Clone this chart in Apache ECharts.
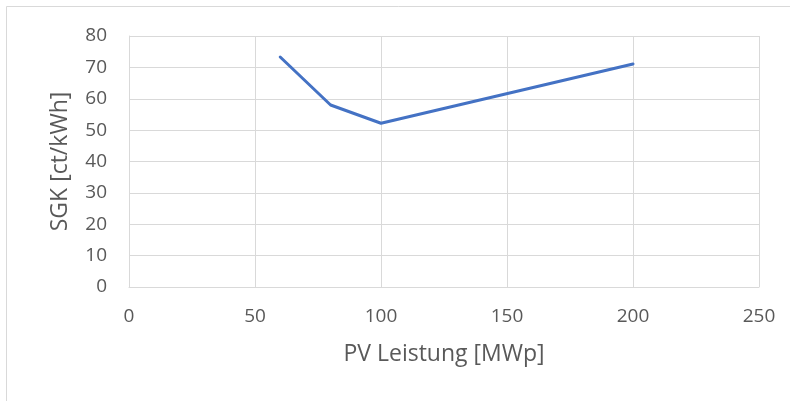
<!DOCTYPE html>
<html>
<head>
<meta charset="utf-8">
<script src="https://cdn.jsdelivr.net/npm/echarts@6/dist/echarts.min.js"></script>
<style>html,body{margin:0;padding:0;background:#fff;}#c{width:790px;height:401px;}</style>
</head>
<body>
<div id="c"></div>
<script>
const xValues = [60, 80, 100, 200];
const yValues = [73.3, 58.0, 52.2, 71.1];
const xTicks = [0, 50, 100, 150, 200, 250];
const yTicks = [0, 10, 20, 30, 40, 50, 60, 70, 80];

const chart = echarts.init(document.getElementById('c'), null, {renderer: 'canvas'});
const font = '"Open Sans", "Liberation Sans", sans-serif';
chart.setOption({
  animation: false,
  backgroundColor: '#fff',
  graphic: [{
    type: 'rect', shape: {x: 6.5, y: 6.5, width: 900, height: 500},
    style: {fill: 'none', stroke: '#d9d9d9', lineWidth: 1}, silent: true
  }],
  grid: {left: 129, right: 31, top: 36, bottom: 114, containLabel: false},
  xAxis: {
    type: 'value', min: xTicks[0], max: xTicks[xTicks.length - 1], interval: 50,
    name: 'PV Leistung [MWp]', nameLocation: 'middle', nameGap: 56,
    nameTextStyle: {color: '#595959', fontSize: 23, fontFamily: font},
    axisLine: {show: true, lineStyle: {color: '#d9d9d9', width: 1}},
    axisTick: {show: false},
    axisLabel: {color: '#595959', fontSize: 19, fontFamily: font, margin: 20},
    splitLine: {show: true, lineStyle: {color: '#d9d9d9', width: 1}}
  },
  yAxis: {
    type: 'value', min: yTicks[0], max: yTicks[yTicks.length - 1], interval: 10,
    name: 'SGK [ct/kWh]', nameLocation: 'middle', nameGap: 57, nameRotate: 90,
    nameTextStyle: {color: '#595959', fontSize: 23, fontFamily: font},
    axisLine: {show: true, lineStyle: {color: '#d9d9d9', width: 1}},
    axisTick: {show: false},
    axisLabel: {color: '#595959', fontSize: 19, fontFamily: font, margin: 22},
    splitLine: {show: true, lineStyle: {color: '#d9d9d9', width: 1}}
  },
  series: [{
    type: 'line',
    data: xValues.map((x, i) => [x, yValues[i]]),
    showSymbol: false,
    lineStyle: {color: '#4472c4', width: 3, cap: 'round', join: 'round'},
    itemStyle: {color: '#4472c4'}
  }]
});
</script>
</body>
</html>
